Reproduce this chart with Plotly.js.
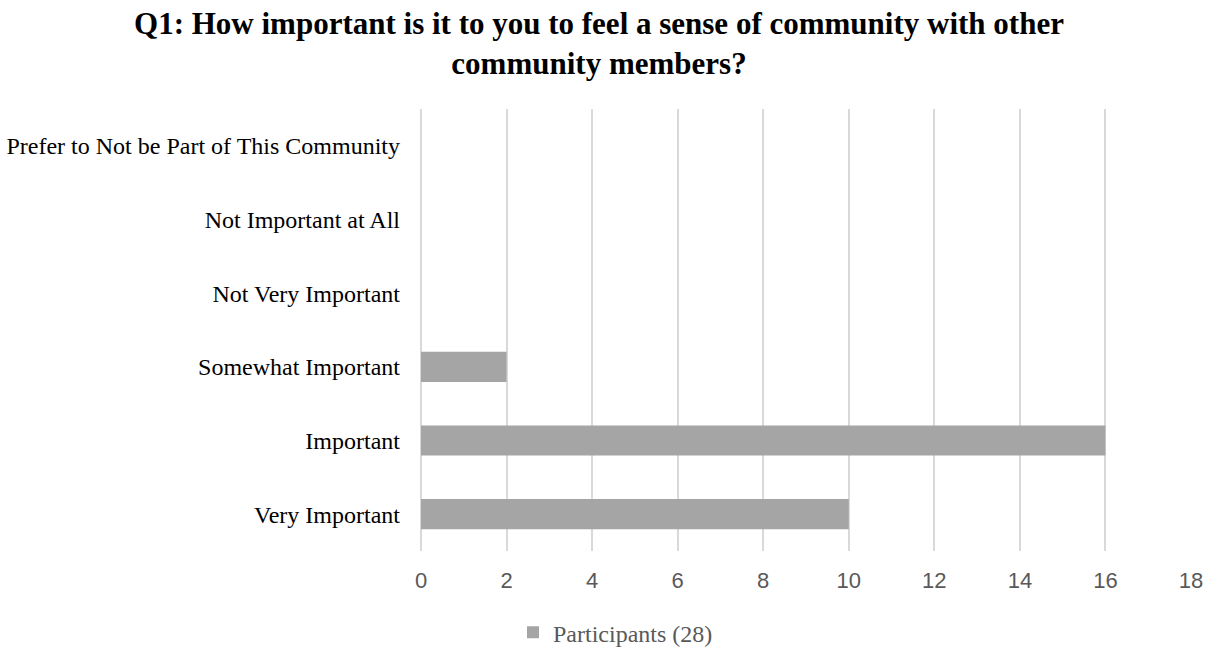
<!DOCTYPE html>
<html>
<head>
<meta charset="utf-8">
<script src="https://cdn.plot.ly/plotly-3.0.1.min.js"></script>
<style>html,body{margin:0;padding:0;background:#fff;}#chart{width:1214px;height:647px;}</style>
</head>
<body>
<div id="chart"></div>
<script>
const categories = ["Very Important", "Important", "Somewhat Important", "Not Very Important", "Not Important at All", "Prefer to Not be Part of This Community"];
const participants = [10, 16, 2, 0, 0, 0];
const tickValues = [0, 2, 4, 6, 8, 10, 12, 14, 16, 18];
const seriesName = "Participants (28)";
const chartTitle = "<b>Q1: How important is it to you to feel a sense of community with other<br>community members?</b>";

const trace = {
  type: "bar",
  orientation: "h",
  y: categories,
  x: participants,
  name: seriesName,
  marker: {color: "#a5a5a5"},
  width: 0.41,
  hoverinfo: "x+y"
};

const layout = {
  width: 1214,
  height: 647,
  margin: {l: 421, r: 23, t: 109, b: 96},
  paper_bgcolor: "#fff",
  plot_bgcolor: "#fff",
  title: {
    text: chartTitle,
    font: {family: "Liberation Serif, Times New Roman, serif", size: 31, color: "#000"},
    x: 0.4934, xanchor: "center",
    y: 0.9474, yanchor: "top"
  },
  xaxis: {
    range: [0, 18],
    tickvals: tickValues,
    showgrid: true,
    gridcolor: "#d9d9d9",
    gridwidth: 2,
    zeroline: true,
    zerolinecolor: "#d9d9d9",
    zerolinewidth: 2,
    showline: false,
    ticks: "",
    ticklabelstandoff: 14,
    tickfont: {family: "Liberation Sans, Arial, sans-serif", size: 22, color: "#595959"},
    fixedrange: true
  },
  yaxis: {
    type: "category",
    showgrid: false,
    zeroline: false,
    showline: false,
    ticks: "",
    ticklabelstandoff: 20,
    tickfont: {family: "Liberation Serif, Times New Roman, serif", size: 24, color: "#000"},
    fixedrange: true
  },
  showlegend: true,
  legend: {
    orientation: "h",
    xref: "container", yref: "container",
    x: 0.507, xanchor: "center",
    y: 0.022, yanchor: "middle",
    font: {family: "Liberation Serif, Times New Roman, serif", size: 24, color: "#595959"},
    itemwidth: 30
  }
};

Plotly.newPlot("chart", [trace], layout, {displayModeBar: false, staticPlot: true});
</script>
</body>
</html>
